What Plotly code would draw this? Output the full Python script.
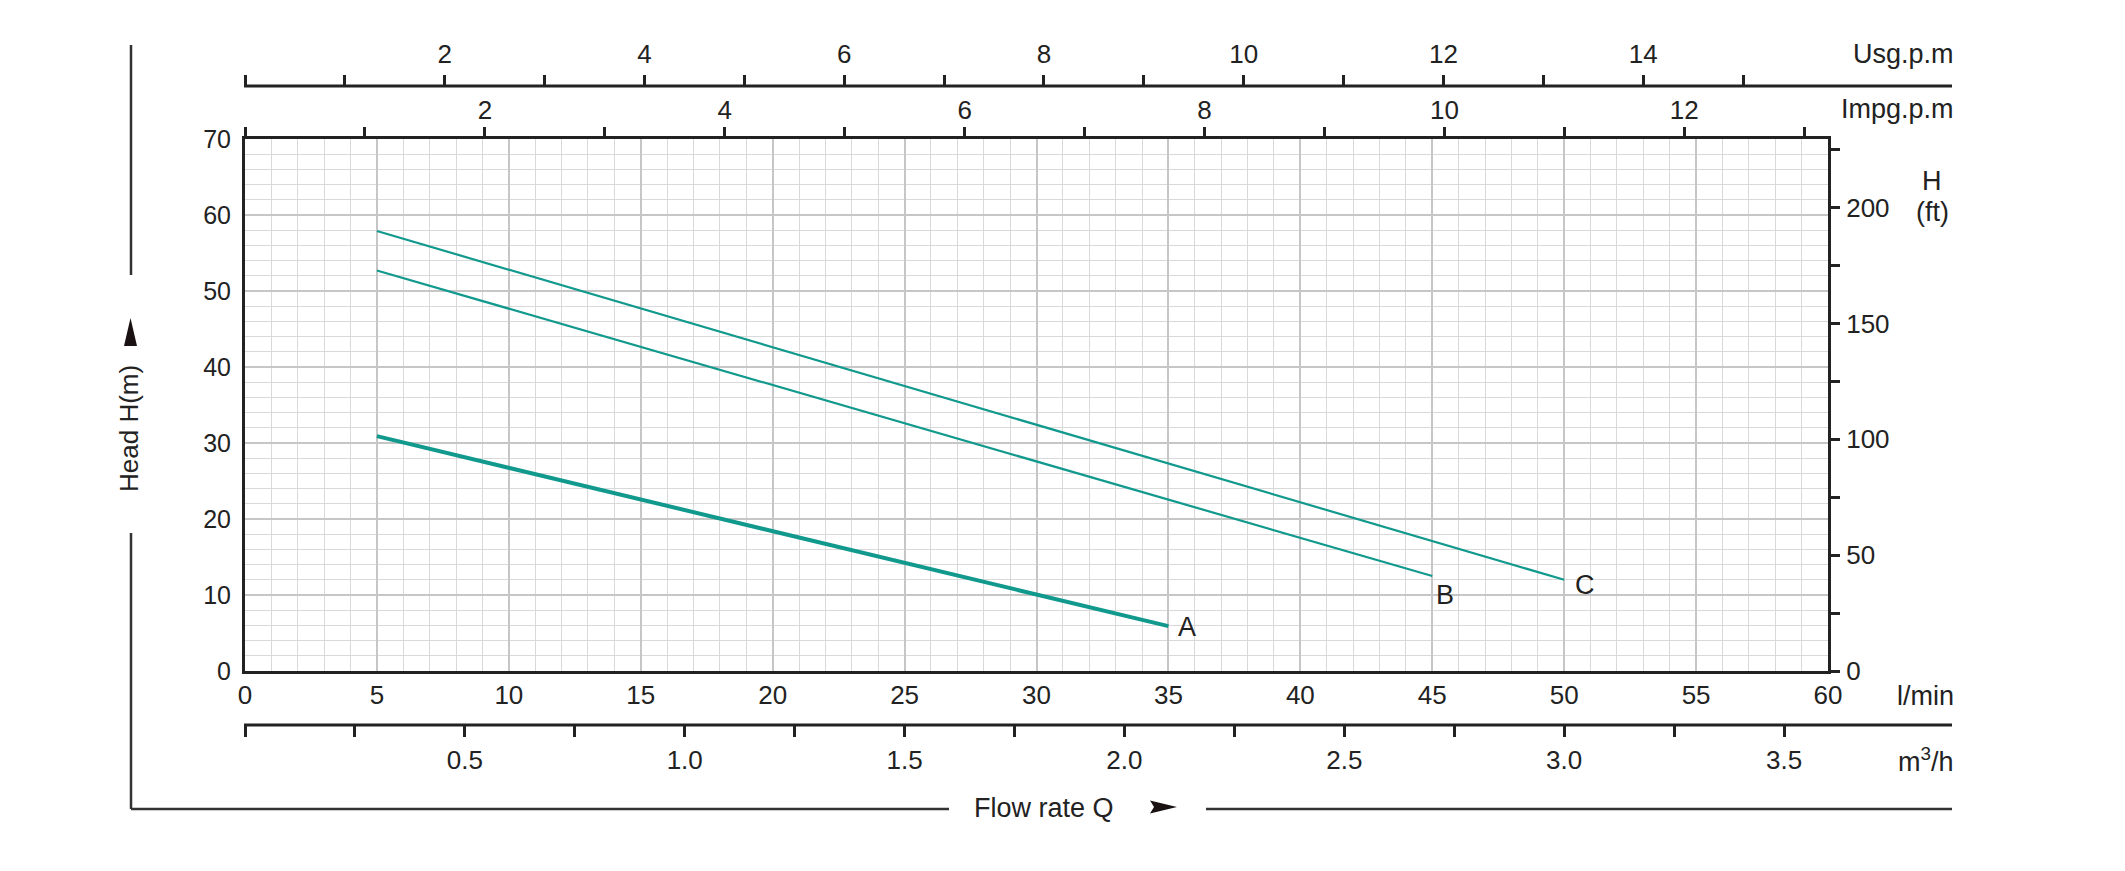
import plotly.graph_objects as go

# ---------------- data ----------------
curve_names = ["A", "B", "C"]
flow_A = [5, 35]
head_A = [30.9, 5.9]
flow_B = [5, 45]
head_B = [52.7, 12.5]
flow_C = [5, 50]
head_C = [57.9, 12.0]
label_flow = [35.7, 45.5, 50.8]
label_head = [5.8, 10.0, 11.3]

lmin_ticks = list(range(0, 61, 5))
head_ticks = list(range(0, 71, 10))
ft_ticks = list(range(0, 226, 25))
ft_labels = [str(v) if v % 50 == 0 else "" for v in ft_ticks]
usg_ticks = list(range(0, 16))
usg_labels = [str(v) if (v % 2 == 0 and v > 0) else "" for v in usg_ticks]
impg_ticks = list(range(0, 14))
impg_labels = [str(v) if (v % 2 == 0 and v > 0) else "" for v in impg_ticks]
m3h_ticks = [i * 0.25 for i in range(0, 15)]
m3h_labels = [("%.1f" % v) if (abs(v * 2 - round(v * 2)) < 1e-9 and v > 0) else "" for v in m3h_ticks]

LPM_PER_USG = 3.78541
LPM_PER_IMPG = 4.54609
LPM_PER_M3H = 1000 / 60
FT_PER_M = 3.28084
Q_MAX = 60
H_MAX = 70

# ---------------- layout geometry ----------------
W, H = 2125, 871
def px(x):
    return x / W
def py(y):
    return 1 - y / H

L, R, T, B = 245, 1828, 139, 671
TEAL = "#12998d"
DARK = "#222222"
FONT = "Liberation Sans, Arial, Helvetica, sans-serif"
tf = dict(family=FONT, size=26, color="#222")

fig = go.Figure()
widths = [4, 2.2, 2.2]
for name, xs, ys, w in zip(curve_names, [flow_A, flow_B, flow_C], [head_A, head_B, head_C], widths):
    fig.add_trace(go.Scatter(x=xs, y=ys, mode="lines", line=dict(color=TEAL, width=w),
                             name=name, showlegend=False, hoverinfo="skip"))

# invisible traces registering the secondary axes
for xa, ya in [("x2", "y"), ("x3", "y"), ("x4", "y"), ("x", "y2")]:
    fig.add_trace(go.Scatter(x=[0, 1], y=[-5, -5], xaxis=xa, yaxis=ya, mode="lines",
                             line=dict(width=0), showlegend=False, hoverinfo="skip"))

dom_x = [px(L), px(R)]
dom_y = [py(B), py(T)]

fig.update_layout(
    width=W, height=H,
    margin=dict(l=0, r=0, t=0, b=0, autoexpand=False),
    paper_bgcolor="white", plot_bgcolor="white",
    font=dict(family=FONT, color="#222"),
    xaxis=dict(domain=dom_x, range=[0, Q_MAX], tickvals=lmin_ticks, showgrid=True,
               gridcolor="#c6c6c6", gridwidth=2,
               minor=dict(dtick=1, tick0=0, showgrid=True, gridcolor="#d9d9d9", gridwidth=1.3),
               showline=True, linecolor=DARK, linewidth=3, mirror=True, ticks="",
               zeroline=False, tickfont=dict(tf, size=26), ticklabelstandoff=-1,
               automargin=False, fixedrange=True),
    yaxis=dict(domain=dom_y, range=[0, H_MAX], tickvals=head_ticks, showgrid=True,
               gridcolor="#c6c6c6", gridwidth=2,
               minor=dict(dtick=2, tick0=0, showgrid=True, gridcolor="#d9d9d9", gridwidth=1.3),
               showline=True, linecolor=DARK, linewidth=3, mirror=True, ticks="",
               zeroline=False, tickfont=dict(tf, size=25), ticklabelstandoff=6,
               automargin=False, fixedrange=True),
    yaxis2=dict(overlaying="y", side="right", anchor="x", range=[0, H_MAX * FT_PER_M],
                tickvals=ft_ticks, ticktext=ft_labels, ticks="outside", ticklen=11,
                tickwidth=2.5, tickcolor=DARK, showgrid=False, showline=False, zeroline=False,
                tickfont=dict(tf, size=26), ticklabelstandoff=1, automargin=False, fixedrange=True),
    xaxis2=dict(overlaying="x", side="top", anchor="y", range=[0, Q_MAX / LPM_PER_IMPG],
                tickvals=impg_ticks, ticktext=impg_labels, ticks="outside", ticklen=11,
                tickwidth=2.5, tickcolor=DARK, showgrid=False, showline=False, zeroline=False,
                tickfont=tf, ticklabelstandoff=-2, automargin=False, fixedrange=True),
    xaxis3=dict(overlaying="x", side="top", anchor="free", position=py(86),
                range=[0, Q_MAX / LPM_PER_USG],
                tickvals=usg_ticks, ticktext=usg_labels, ticks="outside", ticklen=11,
                tickwidth=2.5, tickcolor=DARK, showgrid=False, showline=False, zeroline=False,
                tickfont=tf, ticklabelstandoff=2, automargin=False, fixedrange=True),
    xaxis4=dict(overlaying="x", side="bottom", anchor="free", position=py(725),
                range=[0, Q_MAX / LPM_PER_M3H],
                tickvals=m3h_ticks, ticktext=m3h_labels, ticks="outside", ticklen=11,
                tickwidth=2.5, tickcolor=DARK, showgrid=False, showline=False, zeroline=False,
                tickfont=tf, ticklabelstandoff=1, automargin=False, fixedrange=True),
)

shapes = []
line_style = dict(color="#333", width=2.5)
# extended axis lines for Usg and m3/h
shapes.append(dict(type="line", xref="paper", yref="paper", x0=px(L - 1), x1=px(1952),
                   y0=py(86), y1=py(86), line=dict(color=DARK, width=3)))
shapes.append(dict(type="line", xref="paper", yref="paper", x0=px(L - 1), x1=px(1952),
                   y0=py(725), y1=py(725), line=dict(color=DARK, width=3)))
# outer frame lines
shapes.append(dict(type="line", xref="paper", yref="paper", x0=px(131), x1=px(131),
                   y0=py(45), y1=py(275), line=line_style))
shapes.append(dict(type="line", xref="paper", yref="paper", x0=px(131), x1=px(131),
                   y0=py(533), y1=py(809), line=line_style))
shapes.append(dict(type="line", xref="paper", yref="paper", x0=px(131), x1=px(949),
                   y0=py(809), y1=py(809), line=line_style))
shapes.append(dict(type="line", xref="paper", yref="paper", x0=px(1206), x1=px(1952),
                   y0=py(809), y1=py(809), line=line_style))
# arrows
up = "M %f %f L %f %f L %f %f Z" % (px(124), py(346), px(137), py(346), px(130.5), py(318))
right = "M %f %f L %f %f L %f %f L %f %f Z" % (px(1150), py(800.5), px(1177), py(807),
                                               px(1150), py(813.5), px(1154), py(807))
shapes.append(dict(type="path", xref="paper", yref="paper", path=up,
                   fillcolor="#1a1212", line=dict(width=0)))
shapes.append(dict(type="path", xref="paper", yref="paper", path=right,
                   fillcolor="#1a1212", line=dict(width=0)))
fig.update_layout(shapes=shapes)

ann = []
for name, xv, yv in zip(curve_names, label_flow, label_head):
    ann.append(dict(x=xv, y=yv, xref="x", yref="y", text=name, showarrow=False,
                    font=dict(tf, size=27), xanchor="center", yanchor="middle"))

def pann(text, x, y, xanchor="center", size=26, angle=0):
    ann.append(dict(x=px(x), y=py(y), xref="paper", yref="paper", text=text, showarrow=False,
                    font=dict(tf, size=size), xanchor=xanchor, yanchor="middle", textangle=angle))

pann("Usg.p.m", 1956, 54, "right", 27)
pann("Impg.p.m", 1956, 109, "right", 27)
pann("l/min", 1956, 696, "right", 27)
pann("m<sup>3</sup>/h", 1956, 760, "right", 27)
pann("H", 1932, 181, size=27)
pann("(ft)", 1932, 212, size=27)
pann("Head H(m)", 129, 429, angle=-90, size=26)
pann("Flow rate Q", 1044, 808, size=27)
fig.update_layout(annotations=ann)

fig.write_html("out.html", config={"displayModeBar": False},
               post_script="document.body.style.margin='0';")
